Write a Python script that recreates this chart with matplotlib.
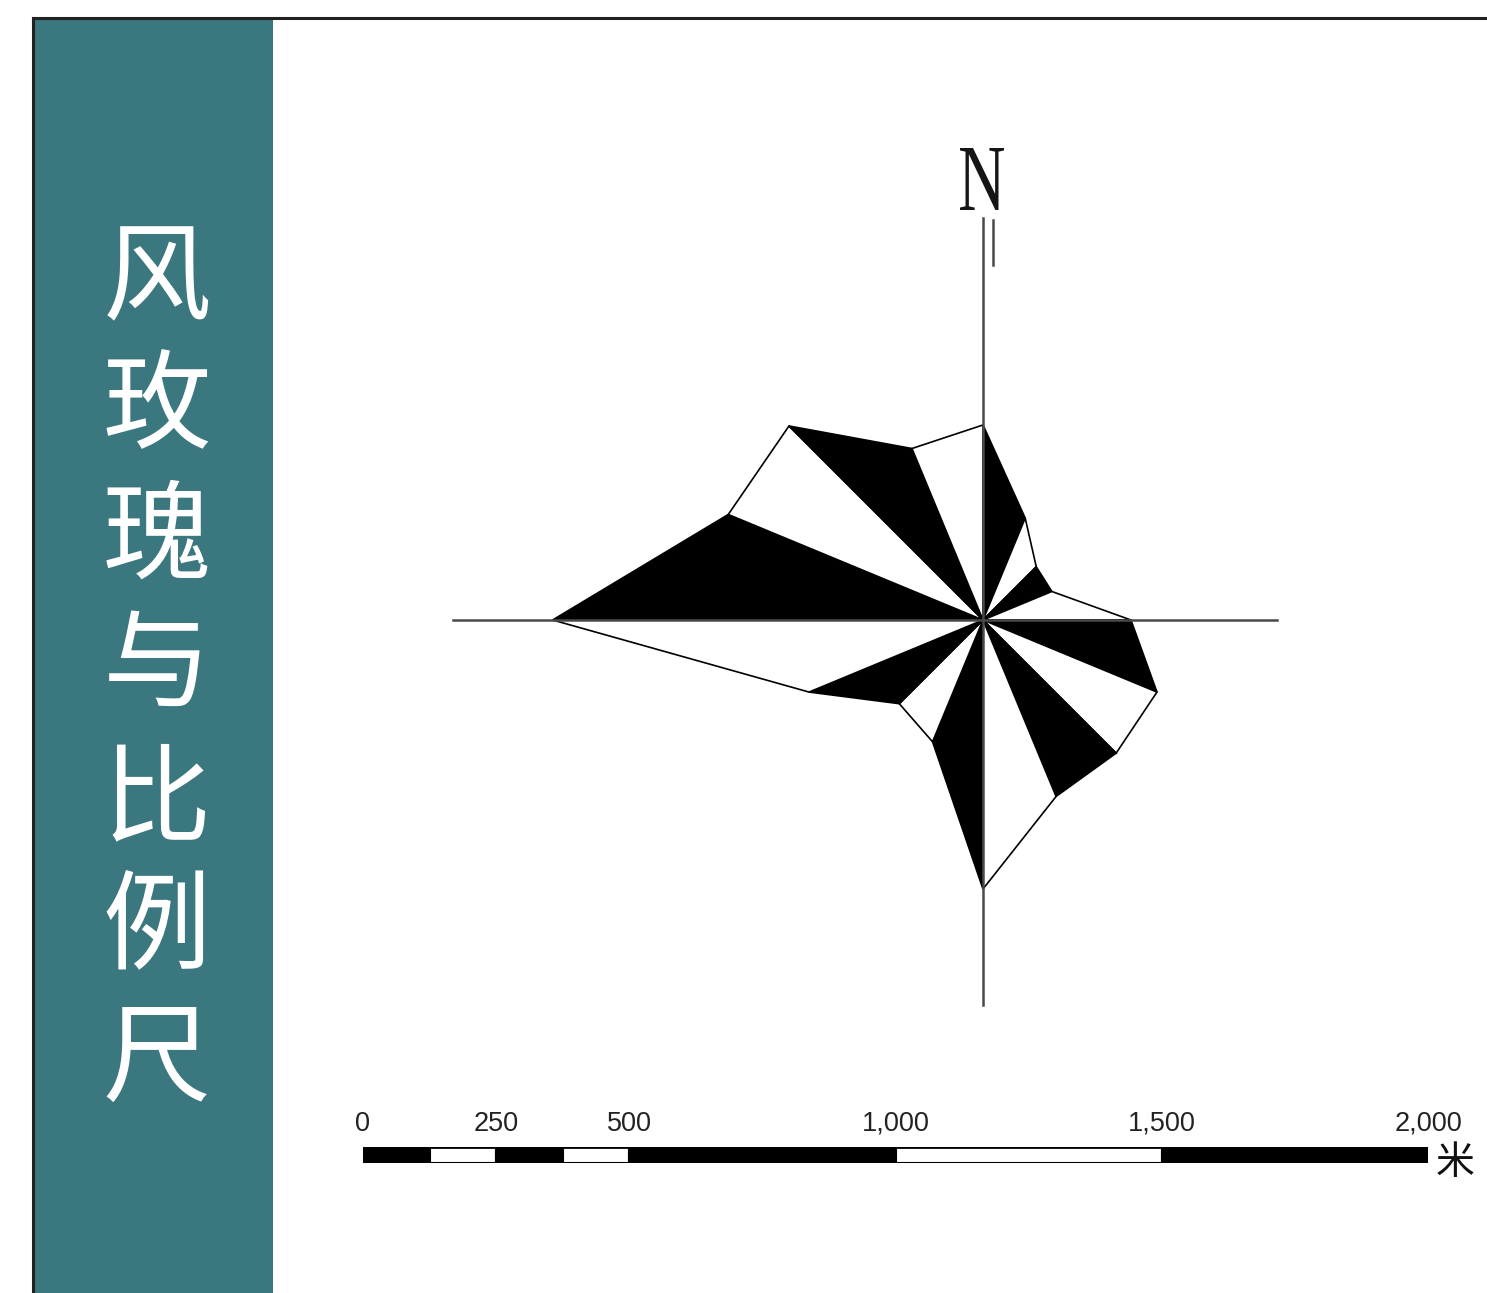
import numpy as np
import matplotlib
matplotlib.use("Agg")
import matplotlib.pyplot as plt
from matplotlib.patches import Polygon, Rectangle, PathPatch
from matplotlib.textpath import TextPath
from matplotlib.font_manager import FontProperties
from matplotlib.transforms import Affine2D

# ---------------- data ----------------
directions = ["N", "NNE", "NE", "ENE", "E", "ESE", "SE", "SSE",
              "S", "SSW", "SW", "WSW", "W", "WNW", "NW", "NNW"]
frequency = [7.25, 4.1, 2.8, 2.77, 5.5, 7.0, 7.0, 7.1,
             10.0, 4.9, 4.4, 7.0, 16.0, 10.25, 10.2, 6.9]
title_chars = ["风", "玫", "瑰", "与", "比", "例", "尺"]
scale_breaks = [0, 125, 250, 375, 500, 1000, 1500, 2000]
scale_ticks = [0, 250, 500, 1000, 1500, 2000]
scale_labels = ["0", "250", "500", "1,000", "1,500", "2,000"]
scale_unit = "米"
north_label = "N"

W, H = 1487, 1293
fig = plt.figure(figsize=(W / 100, H / 100), dpi=100)
fig.patch.set_facecolor("white")

cjk = ["Noto Sans CJK SC", "DejaVu Sans"]

# ---------------- background / panel ----------------
bg = fig.add_axes([0, 0, 1, 1])
bg.set_xlim(0, W)
bg.set_ylim(H, 0)
bg.axis("off")
bg.add_patch(Rectangle((33, 18), 240, H - 18, facecolor="#3A777E",
                       edgecolor="none", zorder=1))
bg.plot([33, W], [18, 18], color="#222222", lw=2.2, zorder=2)
bg.plot([33, 33], [18, H], color="#222222", lw=2.2, zorder=2)
char_y = [282, 410, 540, 668, 803, 930, 1062]
for ch, y in zip(title_chars, char_y):
    bg.text(157, y, ch, color="white", fontsize=78, family=cjk,
            fontweight="light", ha="center", va="center", zorder=3)

# condensed serif "N" (north label)
tp = TextPath((0, 0), north_label, size=100,
              prop=FontProperties(family=["Liberation Serif", "DejaVu Serif"]))
ext = tp.get_extents()
tx0, tx1, ty0, ty1 = 960, 1004, 148, 210
tr = (Affine2D().translate(-ext.x0, -ext.y0)
      .scale((tx1 - tx0) / ext.width, -(ty1 - ty0) / ext.height)
      .translate(tx0, ty1))
bg.add_patch(PathPatch(tr.transform_path(tp), facecolor="#151515",
                       edgecolor="none", zorder=5))

# ---------------- wind rose ----------------
cx, cy, s = 983, 620, 26.9   # centre (px) and px per unit
ax = fig.add_axes([0, 0, 1, 1])
ax.set_xlim(-cx / s, (W - cx) / s)
ax.set_ylim((cy - H) / s, cy / s)
ax.axis("off")
ax.patch.set_alpha(0)

ang = np.deg2rad(90 - np.arange(len(directions)) * 22.5)
vx = np.array(frequency) * np.cos(ang)
vy = np.array(frequency) * np.sin(ang)
n = len(directions)
for i in range(n):
    j = (i + 1) % n
    fc = "black" if i % 2 == 0 else "white"
    ax.add_patch(Polygon([[0, 0], [vx[i], vy[i]], [vx[j], vy[j]]],
                         closed=True, facecolor=fc, edgecolor="black",
                         lw=1.2, joinstyle="miter", zorder=3))

# cross axes
ax.plot([(453 - cx) / s, (1277 - cx) / s], [0, 0], color="#4a4a4a", lw=1.8, zorder=4)
ax.plot([0, 0], [(cy - 218) / s, (cy - 1005) / s], color="#4a4a4a", lw=1.8, zorder=4)
ax.plot([10 / s, 10 / s], [(cy - 220) / s, (cy - 265) / s], color="#4a4a4a", lw=1.8, zorder=4)

# ---------------- scale bar ----------------
x0, x1 = 363, 1428
bar_top, bar_bot = 1147, 1163
sb = fig.add_axes([x0 / W, (H - bar_bot) / H, (x1 - x0) / W, (bar_bot - bar_top) / H])
sb.set_xlim(0, 2000)
sb.set_ylim(0, 1)
sb.axis("off")
for k in range(len(scale_breaks) - 1):
    a, b = scale_breaks[k], scale_breaks[k + 1]
    sb.add_patch(Rectangle((a, 0), b - a, 1,
                           facecolor="black" if k % 2 == 0 else "white",
                           edgecolor="black", lw=1.5, zorder=2))
sb.add_patch(Rectangle((0, 0), 2000, 1, facecolor="none", edgecolor="black",
                       lw=2, zorder=3))
for t, lab in zip(scale_ticks, scale_labels):
    sb.text(t, 1 + (1147 - 1124) / 16, lab, ha="center", va="center",
            fontsize=19.5, family=["Liberation Sans", "DejaVu Sans"],
            color="#222222", clip_on=False)
sb.text(2000 + 27 * 2000 / 1065, 0.0, scale_unit, ha="center", va="center",
        fontsize=28, family=cjk, color="#111111", clip_on=False)

fig.savefig("out.png", dpi=100)
